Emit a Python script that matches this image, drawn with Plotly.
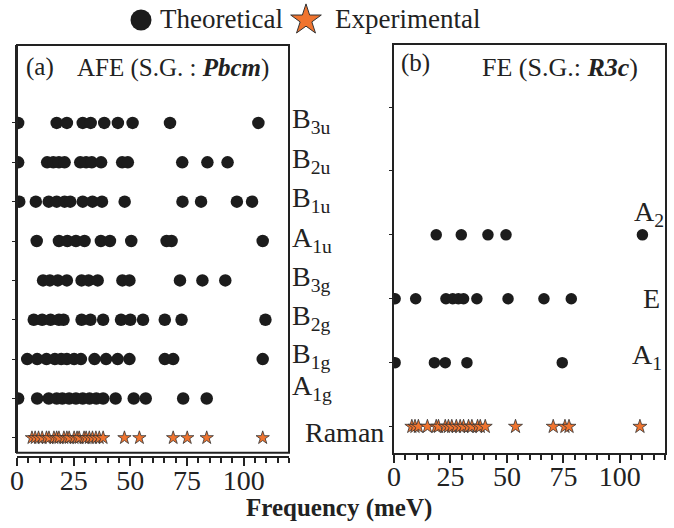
import plotly.graph_objects as go

# ---------------- data (frequencies in meV) ----------------
# Panel (a): AFE, S.G. Pbcm  -- theoretical modes per irreducible representation
afe_rows = ["Raman", "A1g", "B1g", "B2g", "B3g", "A1u", "B1u", "B2u", "B3u"]
afe_B3u = [0.5, 17.5, 22, 29, 32.5, 38.5, 44.5, 51, 67.5, 106.5]
afe_B2u = [0.5, 13.3, 16, 18.5, 21, 27.9, 30.5, 33, 37.1, 46.4, 48.9, 72.9, 84, 92.9]
afe_B1u = [1, 8.3, 14, 17.5, 21, 23.5, 29, 33.3, 37.5, 47.5, 73, 81.2, 97, 103.7]
afe_A1u = [8.7, 18.5, 22.2, 26, 29.8, 37, 41, 50.4, 66, 68.2, 108.4]
afe_B3g = [11.5, 14.5, 18, 22, 28.5, 31.6, 35.6, 46.5, 49.6, 71.9, 81.8, 91.9]
afe_B2g = [7.4, 11.1, 14.8, 18.5, 20.5, 28.5, 32.4, 38, 45.9, 50, 55.6, 65.2, 72.6, 109.6]
afe_B1g = [4.5, 8.9, 13, 16.7, 19.5, 22, 25.2, 28.2, 34.2, 39.3, 44.4, 49.6, 65.2, 68.9, 108.4]
afe_A1g = [0.5, 8.9, 14, 17.5, 20, 23, 26, 29, 32, 35, 38, 43.5, 51.5, 56.8, 73.3, 83.7]
afe_raman_exp = [6.6, 8, 9.5, 11.1, 13, 14.1, 16.3, 17.5, 18.5, 20.7, 22, 23, 25.2, 26.5,
                 27.4, 29.6, 30.5, 31.9, 33.3, 34.8, 36.3, 38, 47.4, 54, 68.9, 75.1, 83.7, 108.4]

# Panel (b): FE, S.G. R3c
fe_rows = ["Raman", "A1", "E", "A2"]
fe_A2 = [18.7, 29.8, 41.6, 49.6, 110]
fe_E = [0.5, 9.6, 23, 26, 28.5, 30.8, 36.7, 50.5, 66.4, 78.5]
fe_A1 = [0.5, 17.9, 22.7, 32.3, 74.5]
fe_raman_exp = [7.9, 9.3, 10.8, 14.8, 18.7, 19.7, 22.7, 24.1, 25.6, 27.6, 29.3, 30.8, 33,
                34.5, 37, 38.2, 40.4, 53.8, 70.5, 75.7, 77.5, 108.9]

x_ticks = [0, 25, 50, 75, 100]
legend_names = ["Theoretical", "Experimental"]

# ---------------- styling ----------------
FONT = "Liberation Serif"
DOT = "#1c1c1c"
STAR = "#F0742F"
INK = "#222222"

W, H = 674, 528
L, R, T, B = 17, 9, 0, 71
pw = W - L - R
ph = H - T - B          # paper height in px (paper y=0 at pixel 457)
TOP_PX = 45             # top of the panel boxes
BOX_BOTTOM_PX = 452.8


def px(x):
    return (x - L) / pw


def py(y):
    return (ph - y) / ph


fig = go.Figure()

afe_theory = {"A1g": afe_A1g, "B1g": afe_B1g, "B2g": afe_B2g, "B3g": afe_B3g,
              "A1u": afe_A1u, "B1u": afe_B1u, "B2u": afe_B2u, "B3u": afe_B3u}
for name, vals in afe_theory.items():
    row = afe_rows.index(name)
    fig.add_trace(go.Scatter(x=vals, y=[row] * len(vals), mode="markers",
                             marker=dict(symbol="circle", size=12.5, color=DOT),
                             showlegend=False, xaxis="x", yaxis="y"))
fig.add_trace(go.Scatter(x=afe_raman_exp, y=[0] * len(afe_raman_exp), mode="markers",
                         marker=dict(symbol="star", size=10, color=STAR,
                                     line=dict(color="#333333", width=0.8)),
                         showlegend=False, xaxis="x", yaxis="y"))

fe_theory = {"A1": fe_A1, "E": fe_E, "A2": fe_A2}
for name, vals in fe_theory.items():
    row = fe_rows.index(name)
    fig.add_trace(go.Scatter(x=vals, y=[row] * len(vals), mode="markers",
                             marker=dict(symbol="circle", size=11.5, color=DOT),
                             showlegend=False, xaxis="x2", yaxis="y2"))
fig.add_trace(go.Scatter(x=fe_raman_exp, y=[0] * len(fe_raman_exp), mode="markers",
                         marker=dict(symbol="star", size=10.5, color=STAR,
                                     line=dict(color="#333333", width=0.8)),
                         showlegend=False, xaxis="x2", yaxis="y2"))

# manual legend keys on an overlay axis (pixel-like units)
fig.add_trace(go.Scatter(x=[141], y=[20], mode="markers", showlegend=False,
                         marker=dict(symbol="circle", size=21, color=DOT),
                         xaxis="x3", yaxis="y3", cliponaxis=False, hoverinfo="skip"))
fig.add_trace(go.Scatter(x=[306], y=[20], mode="markers", showlegend=False,
                         marker=dict(symbol="star", size=23, color=STAR,
                                     line=dict(color="#333333", width=1)),
                         xaxis="x3", yaxis="y3", cliponaxis=False, hoverinfo="skip"))

xa_common = dict(range=[0, 120], tickvals=x_ticks, ticks="outside", ticklen=8,
                 tickwidth=1.5, tickcolor=INK, showline=True, linecolor=INK,
                 linewidth=2, showgrid=False, zeroline=False,
                 ticklabelstandoff=-10,
                 tickfont=dict(family=FONT, size=28, color=INK),
                 minor=dict(dtick=5, ticks="outside", ticklen=5, tickwidth=1.5,
                            tickcolor=INK, showgrid=False))

ydom = [py(BOX_BOTTOM_PX), py(TOP_PX)]

fig.update_layout(
    width=W, height=H,
    margin=dict(l=L, r=R, t=T, b=B),
    paper_bgcolor="white", plot_bgcolor="white",
    font=dict(family=FONT, color=INK),
    showlegend=False,
    xaxis=dict(domain=[0, px(289)], anchor="free", position=0, **xa_common),
    yaxis=dict(domain=ydom, range=[-0.38, 9.98], tickvals=list(range(9)),
               showticklabels=False, ticks="outside", ticklen=3, tickcolor=INK,
               showline=True, linecolor=INK, linewidth=2, showgrid=False,
               zeroline=False),
    xaxis2=dict(domain=[px(394), 1], anchor="y2", mirror=True, **xa_common),
    yaxis2=dict(domain=ydom, range=[-0.41, 5.97], tickvals=list(range(6)),
                anchor="x2", showticklabels=False, ticks="outside", ticklen=3,
                tickcolor=INK, showline=True, mirror=True, linecolor=INK,
                linewidth=2, showgrid=False, zeroline=False),
    xaxis3=dict(domain=[0, 1], range=[L, W - R], visible=False, anchor="y3"),
    yaxis3=dict(domain=[py(TOP_PX), 1], range=[TOP_PX, 0], visible=False, anchor="x3"),
    shapes=[dict(type="rect", xref="x domain", yref="y domain", x0=0, x1=1,
                 y0=0, y1=1, line=dict(color=INK, width=2))],
)

ann = []
# legend texts
ann.append(dict(text=legend_names[0], xref="x3", yref="y3", x=158, y=19,
                xanchor="left", yanchor="middle", showarrow=False,
                font=dict(family=FONT, size=27, color=INK)))
ann.append(dict(text=legend_names[1], xref="x3", yref="y3", x=333, y=19,
                xanchor="left", yanchor="middle", showarrow=False,
                font=dict(family=FONT, size=27, color=INK)))

# header texts
for text, x, y, s in [("(a)", 24, 67, 25), ("AFE (S.G. : <b><i>Pbcm</i></b>)", 75, 68, 25),
                      ("(b)", 399, 63, 25), ("FE (S.G.: <b><i>R3c</i></b>)", 480, 68, 26)]:
    ann.append(dict(text=text, x=px(x), y=py(y), xref="paper", yref="paper",
                    xanchor="left", yanchor="middle", showarrow=False,
                    font=dict(family=FONT, size=s, color=INK)))

# row labels panel (a)  (vertical pixel shift of each label)
afe_label_shift = {"A1g": 11, "B1g": 4, "B2g": 2, "B3g": 2, "A1u": 2, "B1u": 2,
                   "B2u": 2, "B3u": 2}
for name, shift in afe_label_shift.items():
    base, sub = name[0], name[1:]
    ann.append(dict(text=f"{base}<sub>{sub}</sub>", xref="paper", yref="y",
                    x=px(290), y=afe_rows.index(name), xanchor="left",
                    yanchor="middle", yshift=shift, showarrow=False,
                    font=dict(family=FONT, size=28, color=INK)))
ann.append(dict(text="Raman", xref="paper", yref="y", x=px(303), y=0,
                xanchor="left", yanchor="middle", yshift=5, showarrow=False,
                font=dict(family=FONT, size=28, color=INK)))

# row labels panel (b)
ann.append(dict(text="A<sub>2</sub>", xref="paper", yref="y2", x=px(632),
                y=fe_rows.index("A2"), xanchor="left", yanchor="middle",
                yshift=21, showarrow=False, font=dict(family=FONT, size=28, color=INK)))
ann.append(dict(text="E", xref="paper", yref="y2", x=px(641),
                y=fe_rows.index("E"), xanchor="left", yanchor="middle",
                yshift=0, showarrow=False, font=dict(family=FONT, size=28, color=INK)))
ann.append(dict(text="A<sub>1</sub>", xref="paper", yref="y2", x=px(630),
                y=fe_rows.index("A1"), xanchor="left", yanchor="middle",
                yshift=6, showarrow=False, font=dict(family=FONT, size=28, color=INK)))

# x axis title
ann.append(dict(text="<b>Frequency (meV)</b>", xref="paper", yref="paper",
                x=px(339), y=py(508), xanchor="center", yanchor="middle",
                showarrow=False, font=dict(family=FONT, size=25, color=INK)))

fig.update_layout(annotations=ann)
fig.write_html("out.html", config={"displayModeBar": False},
               post_script="document.body.style.margin='0px';")
